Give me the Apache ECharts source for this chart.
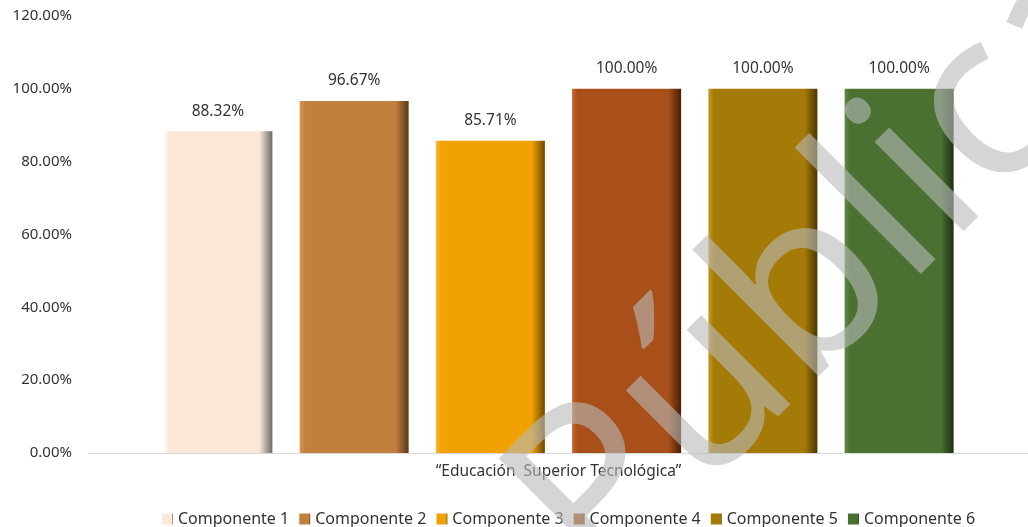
<!DOCTYPE html>
<html>
<head>
<meta charset="utf-8">
<script src="https://cdn.jsdelivr.net/npm/echarts@6/dist/echarts.min.js"></script>
<style>
html,body{margin:0;padding:0;background:#fff;}
#c{width:1028px;height:527px;}
</style>
</head>
<body>
<div id="c"></div>
<script>
var categories = ['\u201CEducación  Superior Tecnológica\u201D'];
var seriesNames = ['Componente 1','Componente 2','Componente 3','Componente 4','Componente 5','Componente 6'];
var seriesValues = [88.32, 96.67, 85.71, 100.00, 100.00, 100.00];
var yTicks = [0, 20, 40, 60, 80, 100, 120];
var baseColors = ['#FBE8D9','#C2803F','#F0A104','#A9501A','#A57B08','#4A7131'];
var edgeLight = ['#ffffff','#D99A58','#F7B93A','#C8682C','#C39A20','#5F8A42'];
var edgeDark = ['#6e6a66','#5a3818','#6e4800','#4a1e05','#4a3600','#1d3012'];

var FONT = 'Noto Sans';
var chart = echarts.init(document.getElementById('c'));

function grad(i){
  return new echarts.graphic.LinearGradient(0,0,1,0,[
    {offset:0,color:edgeLight[i]},
    {offset:0.05,color:baseColors[i]},
    {offset:0.88,color:baseColors[i]},
    {offset:1,color:edgeDark[i]}
  ]);
}

var series = seriesNames.map(function(n,i){
  return {
    name:n, type:'bar', barWidth:109, barGap:'25%',
    data:[seriesValues[i]],
    itemStyle:{color:grad(i)},
    label:{show:true, position:'top', distance:12, color:'#333', fontFamily:FONT, fontSize:15.5,
      formatter:function(p){return p.value.toFixed(2)+'%';}}
  };
});

chart.setOption({
  animation:false,
  textStyle:{fontFamily:FONT},
  grid:{left:89, right:0, top:16, bottom:74, containLabel:false},
  legend:{data:seriesNames, top:506, left:157, icon:'rect', itemWidth:11, itemHeight:11, itemGap:10,
    textStyle:{fontFamily:FONT, fontSize:16, color:'#333'}},
  xAxis:{type:'category', data:categories, axisTick:{show:false},
    axisLine:{lineStyle:{color:'#d9d9d9', width:1}},
    axisLabel:{color:'#333', fontFamily:FONT, fontSize:15.5, margin:11}},
  yAxis:{type:'value', min:yTicks[0], max:yTicks[yTicks.length-1], interval:yTicks[1]-yTicks[0],
    axisLine:{show:false}, axisTick:{show:false}, splitLine:{show:false},
    axisLabel:{color:'#333', fontFamily:FONT, fontSize:15, margin:17,
      formatter:function(v){return v.toFixed(2)+'%';}}},
  series:series,
  graphic:[{
    type:'text', z:100, x:836, y:264, rotation:0.785,
    style:{text:'Pública', font:'235px "Noto Sans"', fill:'rgba(185,185,185,0.6)', align:'center', verticalAlign:'middle'}
  }]
});
</script>
</body>
</html>
